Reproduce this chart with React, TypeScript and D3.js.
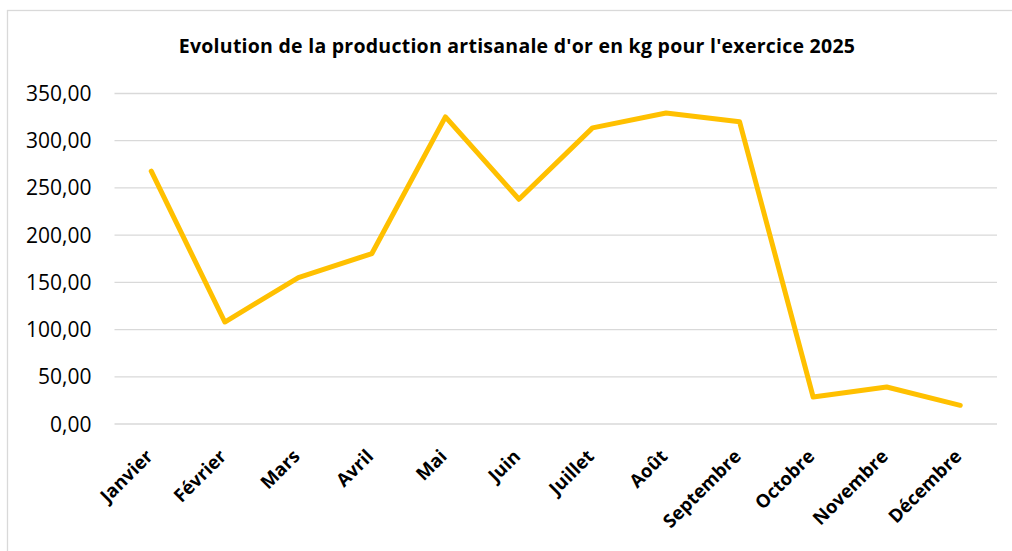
import React, { useEffect, useRef } from 'react';
import * as d3 from 'd3';

const months = ['Janvier', 'Février', 'Mars', 'Avril', 'Mai', 'Juin', 'Juillet', 'Août', 'Septembre', 'Octobre', 'Novembre', 'Décembre'];
const production = [267.7, 108, 155, 180.5, 325.2, 238, 313.6, 329.4, 320, 28.6, 39.2, 19.8];
const yTicks = [0, 50, 100, 150, 200, 250, 300, 350];
const title = "Evolution de la production artisanale d'or en kg pour l'exercice 2025";

const width = 1012;
const height = 551;
const margin = { top: 93.5, right: 15, bottom: 127, left: 114.5 };
const font = 'Open Sans, Liberation Sans, sans-serif';

export default function App() {
    const ref = useRef<SVGSVGElement>(null);

    useEffect(() => {
        const svg = d3.select(ref.current);
        svg.selectAll('*').remove();

        const innerW = width - margin.left - margin.right;
        const innerH = height - margin.top - margin.bottom;

        const x = d3.scaleBand<string>().domain(months).range([0, innerW]);
        const y = d3.scaleLinear().domain([0, 350]).range([innerH, 0]);

        // chart border
        svg.append('rect')
            .attr('x', 7.5).attr('y', 10.5)
            .attr('width', 1010).attr('height', 560)
            .attr('fill', 'white')
            .attr('stroke', '#d9d9d9')
            .attr('stroke-width', 1.3);

        svg.append('text')
            .attr('x', 517).attr('y', 53)
            .attr('text-anchor', 'middle')
            .attr('font-family', font)
            .attr('font-weight', 'bold')
            .attr('font-size', 19.5)
            .attr('letter-spacing', 0.25)
            .attr('fill', '#000')
            .text(title);

        const g = svg.append('g')
            .attr('transform', 'translate(' + margin.left + ',' + margin.top + ')');

        // gridlines
        g.append('g')
            .selectAll('line')
            .data(yTicks)
            .enter()
            .append('line')
            .attr('x1', 0).attr('x2', innerW)
            .attr('y1', d => y(d)).attr('y2', d => y(d))
            .attr('stroke', '#d9d9d9')
            .attr('stroke-width', 1.3);

        // y labels
        const fmt = (v: number) => v.toFixed(2).replace('.', ',');
        g.append('g')
            .selectAll('text')
            .data(yTicks)
            .enter()
            .append('text')
            .attr('x', -23)
            .attr('y', d => y(d))
            .attr('dy', '0.36em')
            .attr('text-anchor', 'end')
            .attr('font-family', font)
            .attr('font-size', 21)
            .attr('fill', '#000')
            .text(d => fmt(d));

        // x labels
        g.append('g')
            .selectAll('text')
            .data(months)
            .enter()
            .append('text')
            .attr('transform', d => 'translate(' + ((x(d) as number) + x.bandwidth() / 2 - 2) + ',' + (innerH + 29) + ') rotate(-45)')
            .attr('text-anchor', 'end')
            .attr('dy', '0.35em')
            .attr('font-family', font)
            .attr('font-weight', 'bold')
            .attr('font-size', 18.5)
            .attr('fill', '#000')
            .text(d => d);

        // line
        const line = d3.line<number>()
            .x((d, i) => (x(months[i]) as number) + x.bandwidth() / 2)
            .y(d => y(d));

        g.append('path')
            .datum(production)
            .attr('d', line)
            .attr('fill', 'none')
            .attr('stroke', '#FFC000')
            .attr('stroke-width', 5)
            .attr('stroke-linejoin', 'round')
            .attr('stroke-linecap', 'round');
    }, []);

    return (
        <svg ref={ref} width={width} height={height} style={{ position: 'absolute', left: 0, top: 0 }} />
    );
}
